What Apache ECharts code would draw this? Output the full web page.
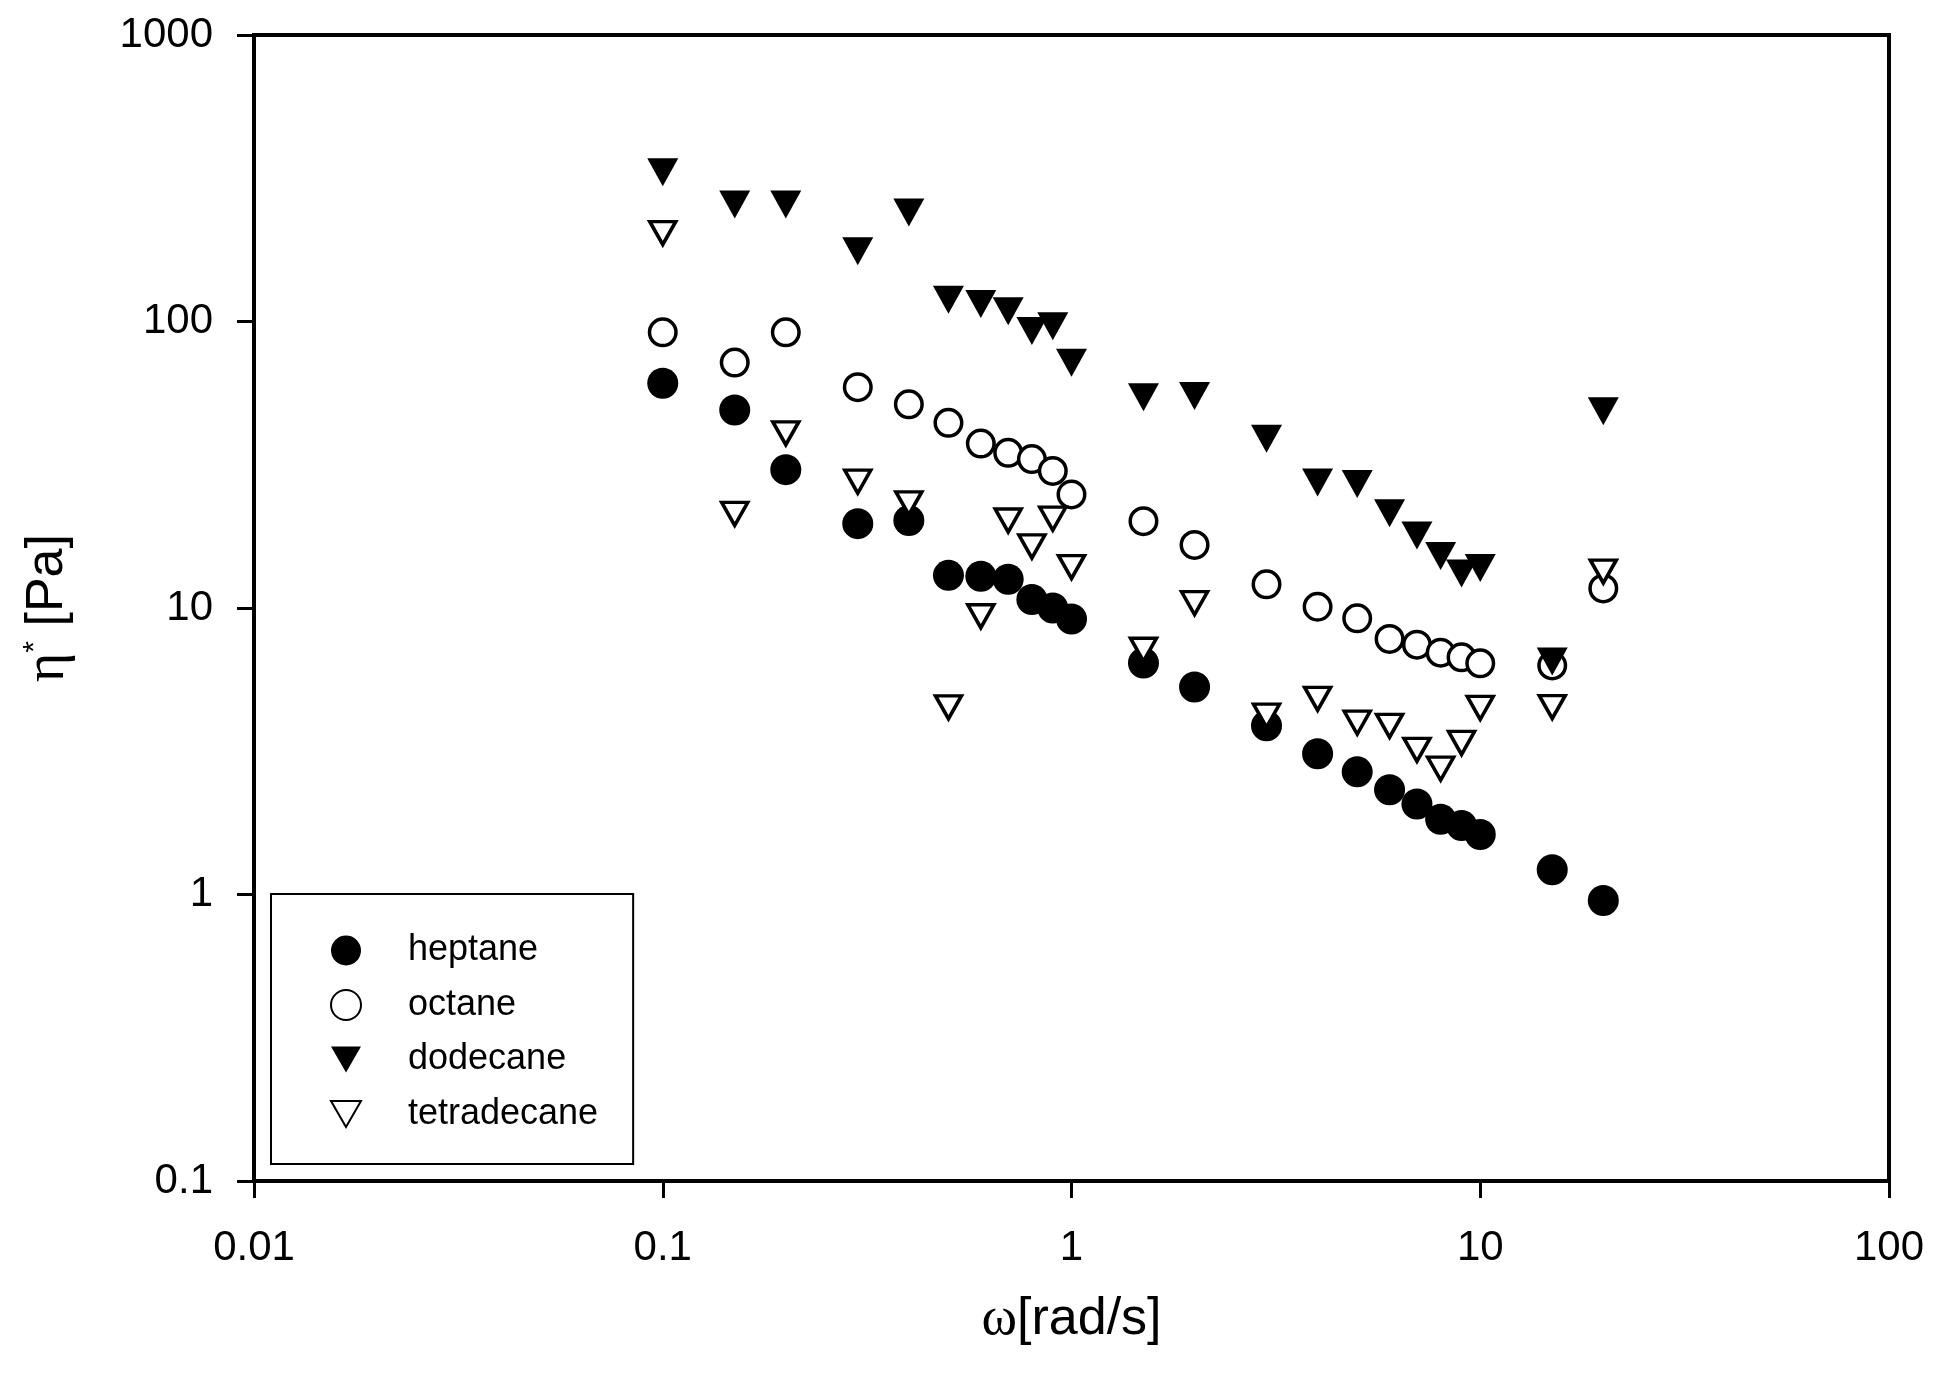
<!DOCTYPE html>
<html>
<head>
<meta charset="utf-8">
<script src="https://cdn.jsdelivr.net/npm/echarts@6/dist/echarts.min.js"></script>
<style>
	html, body { margin: 0; padding: 0; background: #fff; }
	#chart { width: 1937px; height: 1390px; }
</style>
</head>
<body>
<div id="chart"></div>
<script>
// frequency (rad/s)
var omega = [0.1, 0.15, 0.2, 0.3, 0.4, 0.5, 0.6, 0.7, 0.8, 0.9, 1, 1.5, 2, 3, 4, 5, 6, 7, 8, 9, 10, 15, 20];

// complex viscosity (Pa)
var heptane = [60.9, 49.1, 30.4, 19.7, 20.2, 13.0, 12.9, 12.6, 10.7, 10.0, 9.16, 6.43, 5.30, 3.88, 3.10, 2.68, 2.32, 2.07, 1.83, 1.74, 1.62, 1.22, 0.953];
var octane = [91.7, 71.9, 91.7, 59.0, 51.4, 44.3, 37.5, 34.8, 33.1, 30.1, 24.9, 20.1, 16.6, 12.1, 10.1, 9.2, 7.8, 7.45, 6.98, 6.73, 6.41, 6.3, 11.7];
var dodecane = [332, 256, 256, 176, 240, 119, 115, 108.6, 92.6, 96.2, 71.8, 54.4, 54.9, 39.0, 27.4, 27.1, 21.4, 17.9, 15.2, 13.2, 13.8, 6.5, 48.6];
var tetradecane = [203.6, 21.3, 40.7, 27.6, 23.2, 4.50, 9.36, 20.2, 16.4, 20.5, 13.9, 7.15, 10.4, 4.21, 4.82, 3.98, 3.88, 3.20, 2.75, 3.38, 4.48, 4.51, 13.4];

var seriesNames = ['heptane', 'octane', 'dodecane', 'tetradecane'];
var xTicks = [0.01, 0.1, 1, 10, 100];
var yTicks = [0.1, 1, 10, 100, 1000];

var FONT = 'Liberation Sans';
var DOWN_TRIANGLE = 'path://M0,0L31,0L15.5,27Z';

function pairs(ys) {
	return omega.map(function(x, i) {
		return [x, ys[i]];
	});
}

function tickLabel(v) {
	return String(+v.toPrecision(3));
}

var filled = { color: '#000', borderWidth: 0, opacity: 1 };
var hollow = { color: '#fff', borderColor: '#000', borderWidth: 3.5, opacity: 1 };

var myChart = echarts.init(document.getElementById('chart'), null, { renderer: 'canvas' });

var option = {
	backgroundColor: '#fff',
	animation: false,
	grid: {
		left: 254,
		right: 48,
		top: 35,
		bottom: 209,
		show: true,
		borderColor: '#000',
		borderWidth: 4
	},
	legend: {
		orient: 'vertical',
		left: 271,
		top: 894,
		padding: [38.5, 35, 32, 59],
		itemGap: 18.5,
		itemWidth: 30,
		itemHeight: 30,
		borderColor: '#000',
		borderWidth: 2,
		formatter: function(name) {
			return '{n|' + name + '}';
		},
		textStyle: {
			fontFamily: FONT,
			fontSize: 36,
			color: '#000',
			rich: {
				n: { fontFamily: FONT, fontSize: 36, color: '#000', padding: [0, 0, 0, 42] }
			}
		},
		data: [
			{ name: seriesNames[0], icon: 'circle' },
			{ name: seriesNames[1], icon: 'circle' },
			{ name: seriesNames[2], icon: DOWN_TRIANGLE },
			{ name: seriesNames[3], icon: DOWN_TRIANGLE }
		]
	},
	xAxis: {
		type: 'log',
		logBase: 10,
		min: xTicks[0],
		max: xTicks[xTicks.length - 1],
		name: '{w|ω}{t|[rad/s]}',
		nameLocation: 'middle',
		nameGap: 112,
		nameTextStyle: {
			rich: {
				w: { fontFamily: 'Liberation Serif', fontSize: 54, color: '#000' },
				t: { fontFamily: FONT, fontSize: 52, color: '#000' }
			}
		},
		axisLine: { lineStyle: { color: '#000', width: 4 } },
		axisTick: { length: 17, lineStyle: { color: '#000', width: 3 } },
		axisLabel: { margin: 46, fontFamily: FONT, fontSize: 42, color: '#000', formatter: tickLabel },
		splitLine: { show: false },
		minorTick: { show: false }
	},
	yAxis: {
		type: 'log',
		logBase: 10,
		min: yTicks[0],
		max: yTicks[yTicks.length - 1],
		name: '{e|η}{s|*}{t| [Pa]}',
		nameLocation: 'middle',
		nameGap: 178,
		nameTextStyle: {
			rich: {
				e: { fontFamily: 'Liberation Serif', fontSize: 56, color: '#000' },
				s: { fontFamily: FONT, fontSize: 30, color: '#000', verticalAlign: 'top' },
				t: { fontFamily: FONT, fontSize: 52, color: '#000' }
			}
		},
		axisLine: { lineStyle: { color: '#000', width: 4 } },
		axisTick: { length: 17, lineStyle: { color: '#000', width: 3 } },
		axisLabel: { margin: 41, fontFamily: FONT, fontSize: 42, color: '#000', formatter: tickLabel },
		splitLine: { show: false },
		minorTick: { show: false }
	},
	series: [{
		name: seriesNames[0],
		type: 'scatter',
		symbol: 'circle',
		symbolSize: 31,
		itemStyle: filled,
		data: pairs(heptane)
	}, {
		name: seriesNames[1],
		type: 'scatter',
		symbol: 'circle',
		symbolSize: 26.5,
		itemStyle: hollow,
		data: pairs(octane)
	}, {
		name: seriesNames[2],
		type: 'scatter',
		symbol: 'triangle',
		symbolRotate: 180,
		symbolSize: [31, 28],
		itemStyle: filled,
		data: pairs(dodecane)
	}, {
		name: seriesNames[3],
		type: 'scatter',
		symbol: 'triangle',
		symbolRotate: 180,
		symbolSize: [26, 23],
		itemStyle: hollow,
		data: pairs(tetradecane)
	}]
};

myChart.setOption(option, true);
</script>
</body>
</html>
